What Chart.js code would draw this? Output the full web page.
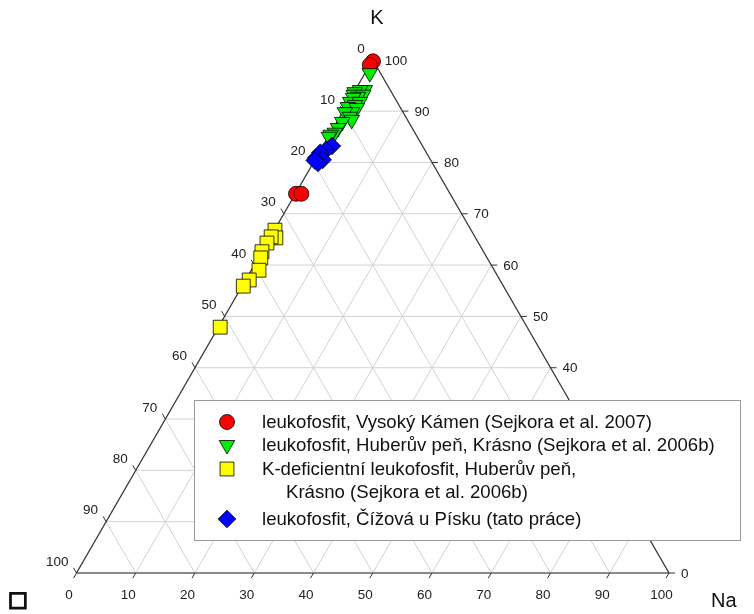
<!DOCTYPE html>
<html>
<head>
<meta charset="utf-8">
<script src="https://cdn.jsdelivr.net/npm/chart.js@4.4.1/dist/chart.umd.min.js"></script>
<style>
  html, body { margin: 0; padding: 0; background: #fff; }
  canvas { display: block; }
</style>
</head>
<body>
<canvas id="tern" width="754" height="614"></canvas>
<script>
// compositions: [K, Na] in %, the rest is the vacancy (□) corner
const vysokyKamen = [[99.7, 0.2], [99.0, 0.0], [73.9, 0.1], [73.9, 1.0]];
const huberuvPen = [
  [97.4, 0.8], [94.1, 1.6], [94.1, 0.8], [93.7, 0.1], [93.2, 0.2], [93.2, 1.8],
  [92.8, 1.1], [92.6, 0.4], [91.8, 0.3], [91.8, 1.9], [91.2, 1.4], [90.8, 0.4],
  [90.6, 2.0], [89.8, 1.6], [89.8, 0.4], [88.9, 1.7], [88.3, 2.3], [87.9, 0.9],
  [86.7, 0.8], [85.8, 0.7], [85.4, 0.2], [85.0, 0.1]
];
const kDeficient = [
  [66.8, 0.1], [65.3, 1.0], [65.5, 0.1], [64.3, 0.0], [62.6, 0.0], [61.4, 0.4],
  [59.0, 1.3], [57.1, 0.6], [55.9, 0.2], [47.9, 0.3]
];
const cizova = [[83.2, 1.5], [82.4, 0.9], [81.9, 0.2], [80.9, 0.0], [80.5, 1.3], [79.9, 0.8], [80.4, 0.0]];

const ticks = [0, 10, 20, 30, 40, 50, 60, 70, 80, 90, 100];
const legendLabels = [
  ["leukofosfit, Vysoký Kámen (Sejkora et al. 2007)"],
  ["leukofosfit, Huberův peň, Krásno (Sejkora et al. 2006b)"],
  ["K-deficientní leukofosfit, Huberův peň,", "Krásno (Sejkora et al. 2006b)"],
  ["leukofosfit, Čížová u Písku (tato práce)"]
];

const H = Math.sqrt(3) / 2;
const FONT = '"Liberation Sans", Arial, sans-serif';

function toXY(k, na) {
  return { x: na + k / 2, y: k * H };
}
function pts(arr) {
  return arr.map((p) => toXY(p[0], p[1]));
}

const styles = [
  { pointStyle: "circle", radius: 7.5, rotation: 0, color: "#ff0000" },
  { pointStyle: "triangle", radius: 9, rotation: 180, color: "#00ee00" },
  { pointStyle: "rect", radius: 9.8, rotation: 0, color: "#ffff00" },
  { pointStyle: "rectRot", radius: 8.8, rotation: 0, color: "#0000ff" },
];

function ds(data, st, order) {
  return {
    data: pts(data),
    pointStyle: st.pointStyle,
    pointRadius: st.radius,
    pointRotation: st.rotation,
    pointBackgroundColor: st.color,
    pointBorderColor: "#000",
    pointBorderWidth: 0.8,
    showLine: false,
    clip: false,
    order: order,
  };
}

const ternaryFrame = {
  id: "ternaryFrame",
  beforeDatasetsDraw(chart) {
    const ctx = chart.ctx;
    const xs = chart.scales.x, ys = chart.scales.y;
    const P = (k, na) => {
      const p = toXY(k, na);
      return [xs.getPixelForValue(p.x), ys.getPixelForValue(p.y)];
    };
    const line = (a, b) => {
      ctx.beginPath();
      ctx.moveTo(a[0], a[1]);
      ctx.lineTo(b[0], b[1]);
      ctx.stroke();
    };
    ctx.save();
    // grid
    ctx.strokeStyle = "#d2d2d2";
    ctx.lineWidth = 1;
    for (let t = 10; t < 100; t += 10) {
      line(P(t, 0), P(t, 100 - t));
      line(P(0, t), P(100 - t, t));
      line(P(0, 100 - t), P(100 - t, 0));
    }
    // edges
    ctx.strokeStyle = "#8a8a8a";
    ctx.lineWidth = 2;
    line(P(0, 0), P(0, 100));
    ctx.strokeStyle = "#333";
    ctx.lineWidth = 1.3;
    line(P(0, 100), P(100, 0));
    line(P(100, 0), P(0, 0));

    // ticks + labels
    ctx.font = "13.5px " + FONT;
    ctx.fillStyle = "#222";
    ctx.lineWidth = 1;
    ticks.forEach((t) => {
      // bottom (Na)
      let b = P(0, t);
      line(b, [b[0] - 3, b[1] + 5.2]);
      ctx.textAlign = "center";
      ctx.textBaseline = "middle";
      ctx.fillText(String(t), b[0] - 7.5, b[1] + 22);
      // right (K)
      let r = P(t, 100 - t);
      line(r, [r[0] + 6, r[1]]);
      ctx.textAlign = "left";
      ctx.fillText(String(t), r[0] + 12, r[1] + 1);
      // left (vacancy)
      let l = P(100 - t, 0);
      line(l, [l[0] - 3, l[1] - 5.2]);
      ctx.textAlign = "right";
      ctx.fillText(String(t), l[0] - 8, l[1] - 11);
    });

    // axis titles
    ctx.fillStyle = "#111";
    ctx.font = "20px " + FONT;
    ctx.textAlign = "center";
    ctx.textBaseline = "middle";
    ctx.fillText("K", 377, 18);
    ctx.textAlign = "left";
    ctx.fillText("Na", 711, 601);
    ctx.font = '21px "DejaVu Sans", sans-serif';
    ctx.textAlign = "center";
    ctx.strokeStyle = "#111";
    ctx.lineWidth = 1.6;
    ctx.fillText("□", 18, 601);
    ctx.strokeText("□", 18, 601);
    ctx.restore();
  },
  afterDatasetsDraw(chart) {
    const ctx = chart.ctx;
    ctx.save();
    ctx.fillStyle = "#fff";
    ctx.strokeStyle = "#9a9a9a";
    ctx.lineWidth = 1;
    ctx.fillRect(194.5, 400.5, 546, 140);
    ctx.strokeRect(194.5, 400.5, 546, 140);

    const rows = [422, 445, 469, 519];
    ctx.font = "18.6px " + FONT;
    ctx.textBaseline = "middle";
    ctx.textAlign = "left";
    legendLabels.forEach((lines, i) => {
      const st = styles[i];
      ctx.fillStyle = st.color;
      ctx.strokeStyle = "#000";
      ctx.lineWidth = 0.8;
      Chart.helpers.drawPoint(ctx, {
        pointStyle: st.pointStyle,
        radius: st.radius,
        rotation: st.rotation,
        borderWidth: 0.8,
      }, 227, rows[i]);
      ctx.fillStyle = "#111";
      ctx.fillText(lines[0], 262, rows[i] + 1);
      if (lines[1]) ctx.fillText(lines[1], 286, rows[i] + 24);
    });
    ctx.restore();
  },
};

new Chart(document.getElementById("tern"), {
  type: "scatter",
  data: {
    datasets: [
      ds(vysokyKamen, styles[0], 4),
      ds(huberuvPen, styles[1], 3),
      ds(kDeficient, styles[2], 2),
      ds(cizova, styles[3], 1),
    ],
  },
  options: {
    responsive: false,
    animation: false,
    layout: { padding: { left: 76.5, right: 85, top: 59.8, bottom: 41 } },
    scales: {
      x: { type: "linear", min: 0, max: 100, display: false },
      y: { type: "linear", min: 0, max: 100 * H, display: false },
    },
    plugins: { legend: { display: false }, tooltip: { enabled: false } },
  },
  plugins: [ternaryFrame],
});
</script>
</body>
</html>
